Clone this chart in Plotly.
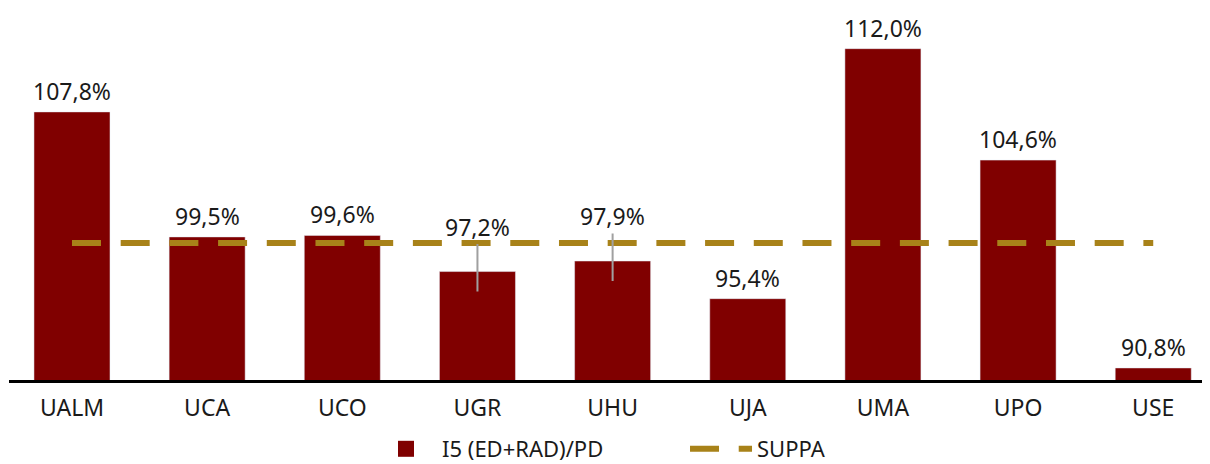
import plotly.graph_objects as go

categories = ["UALM", "UCA", "UCO", "UGR", "UHU", "UJA", "UMA", "UPO", "USE"]
i5_values = [107.8, 99.5, 99.6, 97.2, 97.9, 95.4, 112.0, 104.6, 90.8]
suppa_values = [99.1] * 9
value_labels = ["107,8%", "99,5%", "99,6%", "97,2%", "97,9%", "95,4%", "112,0%", "104,6%", "90,8%"]
# labels moved above the SUPPA line with a leader line
leader = [False, False, False, True, True, False, False, False, False]

BAR = "#800000"
GOLD = "#A88219"
TXT = "#1a1a1a"
FONT = "Noto Sans"

fig = go.Figure()
fig.add_trace(go.Bar(
    x=categories, y=i5_values, marker_color=BAR, name="I5 (ED+RAD)/PD",
    showlegend=False, hoverinfo="skip",
))
fig.add_trace(go.Scatter(
    x=[None], y=[None], mode="markers", name="I5 (ED+RAD)/PD",
    marker=dict(symbol="square", size=22, color=BAR),
))
fig.add_trace(go.Scatter(
    x=categories, y=suppa_values, mode="lines", name="SUPPA",
    line=dict(color=GOLD, width=6, dash="29px,19.7px"),
    hoverinfo="skip",
))

annotations = []
for c, v, t, ld in zip(categories, i5_values, value_labels, leader):
    if ld:
        annotations.append(dict(
            x=c, y=v, text=t, showarrow=True, arrowhead=0, arrowwidth=2,
            arrowcolor="#a0a0a0", ax=0, ay=-65, yshift=-20,
            font=dict(family=FONT, size=23, color=TXT),
        ))
    else:
        annotations.append(dict(
            x=c, y=v, text=t, showarrow=False, yshift=21,
            font=dict(family=FONT, size=23, color=TXT),
        ))

fig.update_layout(
    width=1202, height=456,
    margin=dict(l=1, r=0, t=0, b=84),
    paper_bgcolor="white", plot_bgcolor="white",
    bargap=0.4375,
    font=dict(family=FONT, size=23, color=TXT),
    annotations=annotations,
    showlegend=True,
    legend=dict(
        orientation="h", xref="paper", x=0.3006, xanchor="left",
        yref="container", y=0.0329, yanchor="middle",
        font=dict(family=FONT, size=22, color=TXT), itemwidth=62,
        entrywidth=238, bgcolor="rgba(0,0,0,0)",
    ),
    xaxis=dict(
        range=[-0.466, 8.42], showgrid=False, zeroline=False,
        showline=True, linecolor="black", linewidth=3,
        ticks="outside", ticklen=5, tickcolor="rgba(0,0,0,0)",
        tickfont=dict(family=FONT, size=23, color=TXT),
    ),
    yaxis=dict(
        range=[90, 114.70], visible=False, showgrid=False, zeroline=False,
    ),
)

fig.write_html("out.html")
